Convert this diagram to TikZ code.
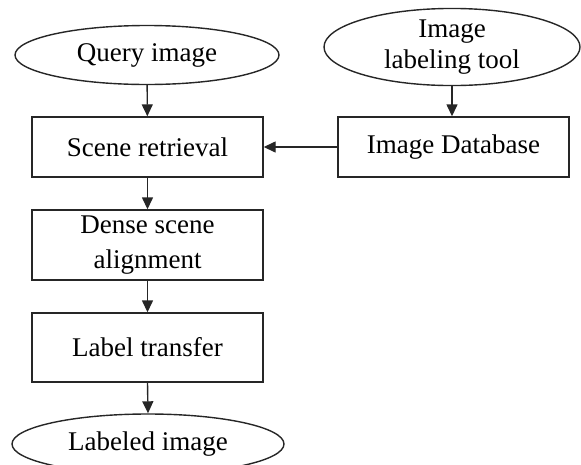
\documentclass[tikz,border=0pt]{standalone}
\usepackage{fontspec}
\setmainfont{Liberation Serif}
\usetikzlibrary{shapes.geometric,arrows.meta}
\begin{document}
\begin{tikzpicture}[x=1pt,y=-1pt,
  line/.style={draw=black!85,line width=1.4pt},
  stepbox/.style={line,rectangle,minimum width=231pt,inner sep=0pt,
    font=\fontsize{27}{35}\selectfont,align=center},
  terminal/.style={line,ellipse,inner sep=0pt,
    font=\fontsize{27}{31}\selectfont,align=center},
  flow/.style={line,-{Triangle[length=12pt,width=11pt]}}]
\clip (0,0) rectangle (581,464);
\useasboundingbox (0,0) rectangle (581,464);
% start and end terminals
\node[terminal,minimum width=264pt,minimum height=59pt] (query) at (147,55) {Query image};
\node[terminal,minimum width=256pt,minimum height=74pt] (tool) at (452,47) {Image\\labeling tool};
\node[terminal,minimum width=272pt,minimum height=60pt] (labeled) at (148,444) {Labeled image};
% processing steps
\node[stepbox,minimum height=60pt] (retrieval) at (147.5,147) {Scene retrieval};
\node[stepbox,minimum height=70pt] (align) at (147.5,245) {Dense scene\\alignment};
\node[stepbox,minimum height=69pt] (transfer) at (147.5,347.5) {Label transfer};
\node[stepbox,minimum height=60pt] (db) at (453.5,147) {Image Database};
% connectors
\draw[flow] (query) -- (retrieval);
\draw[flow] (tool.south) -- (tool.south |- db.north);
\draw[flow] (db) -- (retrieval);
\draw[flow] (retrieval) -- (align);
\draw[flow] (align) -- (transfer);
\draw[flow] (transfer.south) -- (labeled.north);
\end{tikzpicture}
\end{document}
